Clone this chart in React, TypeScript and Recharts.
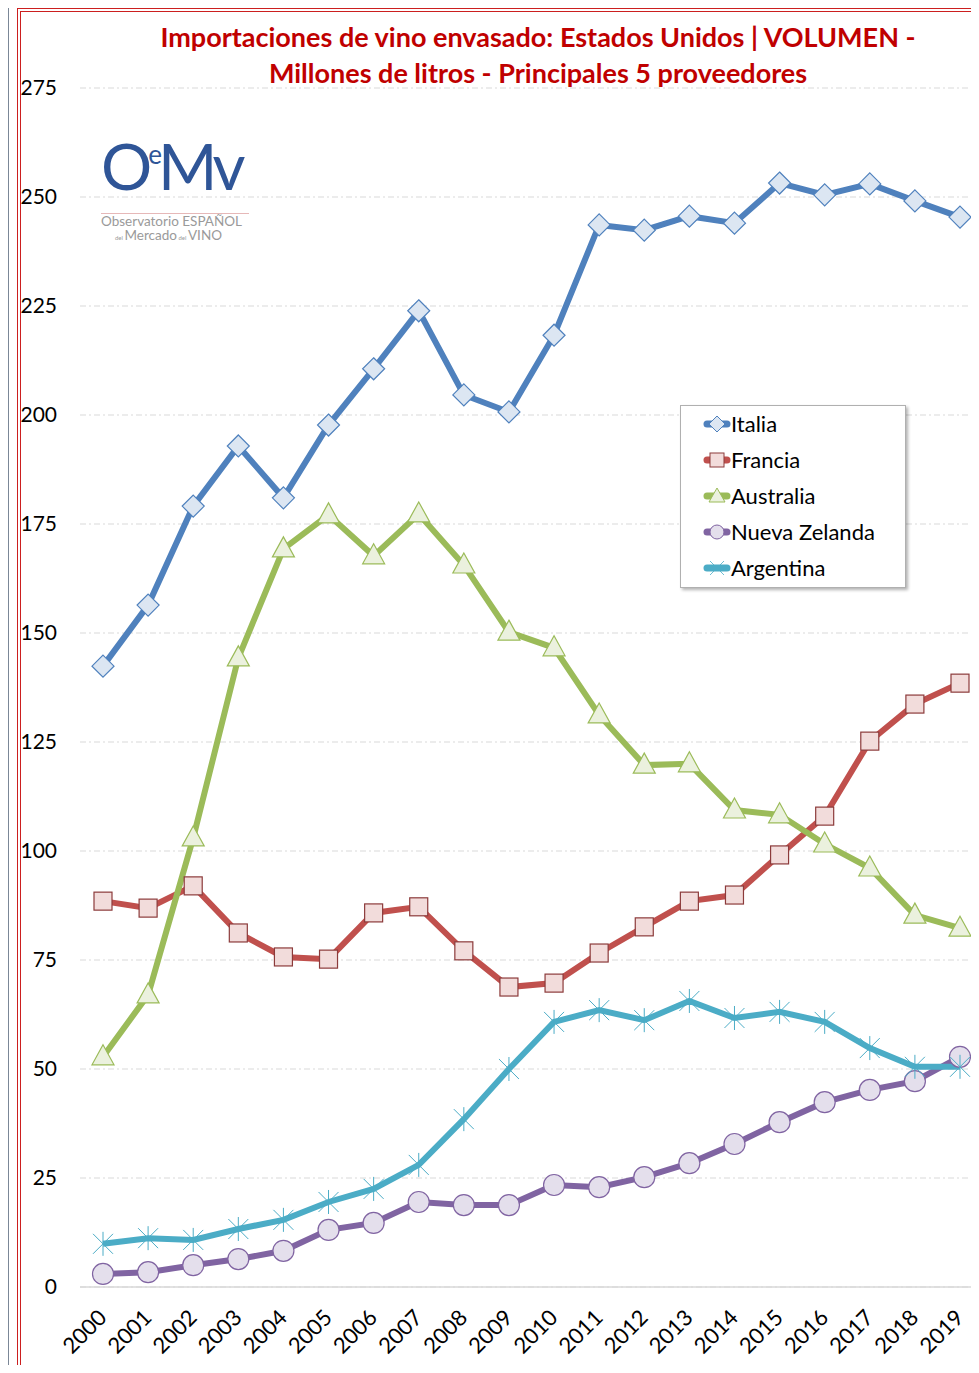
import { CartesianGrid, Line, LineChart, XAxis, YAxis } from 'recharts';

const years = ['2000', '2001', '2002', '2003', '2004', '2005', '2006', '2007', '2008', '2009', '2010', '2011', '2012', '2013', '2014', '2015', '2016', '2017', '2018', '2019'];
const italia = [142.4, 156.4, 179.1, 192.9, 181.0, 197.7, 210.6, 223.9, 204.6, 200.7, 218.3, 243.6, 242.4, 245.6, 244.0, 253.2, 250.5, 253.0, 249.1, 245.4];
const francia = [88.5, 86.9, 92.0, 81.2, 75.7, 75.2, 85.8, 87.2, 77.1, 68.8, 69.7, 76.6, 82.6, 88.5, 89.9, 99.1, 108.0, 125.2, 133.7, 138.5];
const australia = [52.8, 67.0, 103.0, 144.3, 169.3, 177.1, 167.7, 177.3, 165.6, 150.2, 146.6, 131.2, 119.7, 120.0, 109.4, 108.3, 101.6, 96.1, 85.3, 82.3];
const nuevaZelanda = [3.0, 3.4, 5.0, 6.4, 8.3, 13.1, 14.7, 19.5, 18.8, 18.8, 23.4, 22.9, 25.2, 28.4, 32.8, 37.8, 42.4, 45.2, 47.2, 52.8];
const argentina = [9.9, 11.2, 10.8, 13.3, 15.4, 19.5, 22.5, 28.0, 38.5, 50.0, 60.8, 63.5, 61.2, 65.6, 61.7, 63.1, 60.8, 54.8, 50.5, 50.5];
const yTicks = [0, 25, 50, 75, 100, 125, 150, 175, 200, 225, 250, 275];

const data = years.map((y, i) => ({
  year: y,
  italia: italia[i],
  francia: francia[i],
  australia: australia[i],
  nz: nuevaZelanda[i],
  argentina: argentina[i],
}));

const FONT = 'Lato, "Open Sans", sans-serif';

const diamond = (cx: number, cy: number, r = 11) => `M${cx},${cy - r} L${cx + r},${cy} L${cx},${cy + r} L${cx - r},${cy} Z`;
const triangle = (cx: number, cy: number) => `M${cx},${cy - 12} L${cx + 11},${cy + 8} L${cx - 11},${cy + 8} Z`;

const DiamondDot = (p: any) => <path key={`d${p.index}`} d={diamond(p.cx, p.cy)} fill="#dce6f2" stroke="#4f81bd" strokeWidth={1.2} />;
const SquareDot = (p: any) => <rect key={`s${p.index}`} x={p.cx - 9} y={p.cy - 9} width={18} height={18} fill="#f2dcdb" stroke="#8c3b3b" strokeWidth={1.2} />;
const TriangleDot = (p: any) => <path key={`t${p.index}`} d={triangle(p.cx, p.cy)} fill="#ebf1de" stroke="#9bbb59" strokeWidth={1.2} />;
const CircleDot = (p: any) => <circle key={`c${p.index}`} cx={p.cx} cy={p.cy} r={10.5} fill="#e4dfec" stroke="#8064a2" strokeWidth={1.2} />;
const StarDot = (p: any) => (
  <g key={`a${p.index}`} stroke="#4bacc6" strokeWidth={1}>
    <line x1={p.cx - 10} y1={p.cy - 10} x2={p.cx + 10} y2={p.cy + 10} />
    <line x1={p.cx - 10} y1={p.cy + 10} x2={p.cx + 10} y2={p.cy - 10} />
    <line x1={p.cx} y1={p.cy - 12} x2={p.cx} y2={p.cy + 12} />
  </g>
);

const YearTick = (p: any) => (
  <text x={p.x + 5} y={p.y + 24} transform={`rotate(-45, ${p.x + 5}, ${p.y + 24})`} textAnchor="end" fontSize={22} fontFamily={FONT} fill="#000">
    {p.payload.value}
  </text>
);

const legendItems = [
  { name: 'Italia', color: '#4f81bd', marker: (cx: number, cy: number) => <path d={diamond(cx, cy, 8)} fill="#dce6f2" stroke="#4f81bd" /> },
  { name: 'Francia', color: '#c0504d', marker: (cx: number, cy: number) => <rect x={cx - 7} y={cy - 7} width={14} height={14} fill="#f2dcdb" stroke="#8c3b3b" /> },
  { name: 'Australia', color: '#9bbb59', marker: (cx: number, cy: number) => <path d={`M${cx},${cy - 8} L${cx + 8},${cy + 6} L${cx - 8},${cy + 6} Z`} fill="#ebf1de" stroke="#9bbb59" /> },
  { name: 'Nueva Zelanda', color: '#8064a2', marker: (cx: number, cy: number) => <circle cx={cx} cy={cy} r={7} fill="#e4dfec" stroke="#8064a2" /> },
  {
    name: 'Argentina',
    color: '#4bacc6',
    marker: (cx: number, cy: number) => (
      <g stroke="#4bacc6" strokeWidth={0.8}>
        <line x1={cx - 7} y1={cy - 7} x2={cx + 7} y2={cy + 7} />
        <line x1={cx - 7} y1={cy + 7} x2={cx + 7} y2={cy - 7} />
      </g>
    ),
  },
];

export default function App() {
  return (
    <div style={{ position: 'relative', width: 979, height: 1373, margin: -8, overflow: 'hidden', background: '#fff', fontFamily: FONT }}>
      <div style={{ position: 'absolute', left: 0, top: 0, width: 7, height: 1373, background: '#dfe7f1', borderRight: '2px solid #7b8797' }} />
      <div style={{ position: 'absolute', left: 17, top: 8, width: 990, height: 1355, border: '4px double #cc1f1f' }} />

      <div style={{ position: 'absolute', left: 100, top: 19, width: 876, textAlign: 'center', color: '#c00000', fontWeight: 700, fontSize: 27, lineHeight: '36px' }}>
        Importaciones de vino envasado: Estados Unidos | VOLUMEN -
        <br />
        Millones de litros - Principales 5 proveedores
      </div>

      <div style={{ position: 'absolute', left: 101, top: 133, width: 152, color: '#2f5597' }}>
        <div style={{ fontSize: 64, lineHeight: '66px', fontWeight: 400, letterSpacing: -4, whiteSpace: 'nowrap' }}>
          O<span style={{ fontSize: 26, position: 'relative', top: -26 }}>e</span>Mv
        </div>
        <div style={{ borderTop: '1px solid #e6b8b8', width: 148 }} />
        <div style={{ fontSize: 13.5, color: '#9a9a9a', lineHeight: '14px', whiteSpace: 'nowrap' }}>Observatorio ESPAÑOL</div>
        <div style={{ fontSize: 13.5, color: '#9a9a9a', lineHeight: '14px', whiteSpace: 'nowrap', paddingLeft: 14 }}>
          <span style={{ fontSize: 6 }}>del </span>Mercado<span style={{ fontSize: 6 }}> del </span>VINO
        </div>
      </div>

      <div style={{ position: 'absolute', left: 0, top: 0 }}>
        <LineChart width={990} height={1373} data={data} margin={{ top: 88, right: 7, left: 0, bottom: 0 }}>
          <CartesianGrid vertical={false} stroke="#d9d9d9" strokeDasharray="6 3 2 3" />
          <XAxis dataKey="year" height={86} axisLine={{ stroke: '#d9d9d9', strokeWidth: 1.5 }} tickLine={false} interval={0} padding={{ left: 23, right: 23 }} tick={<YearTick />} />
          <YAxis width={80} domain={[0, 275]} ticks={yTicks} axisLine={false} tickLine={false} tickMargin={17} tick={{ fontSize: 21, fontFamily: FONT, fill: '#000' }} />
          <Line dataKey="italia" stroke="#4f81bd" strokeWidth={6} dot={DiamondDot} isAnimationActive={false} />
          <Line dataKey="francia" stroke="#c0504d" strokeWidth={6} dot={SquareDot} isAnimationActive={false} />
          <Line dataKey="australia" stroke="#9bbb59" strokeWidth={6} dot={TriangleDot} isAnimationActive={false} />
          <Line dataKey="nz" stroke="#8064a2" strokeWidth={6} dot={CircleDot} isAnimationActive={false} />
          <Line dataKey="argentina" stroke="#4bacc6" strokeWidth={6} dot={StarDot} isAnimationActive={false} />
        </LineChart>
      </div>

      <div style={{ position: 'absolute', left: 680, top: 405, width: 224, height: 181, border: '1px solid #b0b0b0', boxShadow: '2px 2px 3px rgba(0,0,0,0.3)', background: '#fff' }}>
        {legendItems.map((it, i) => (
          <div key={it.name} style={{ position: 'absolute', left: 22, top: 3 + i * 36, height: 30, display: 'flex', alignItems: 'center' }}>
            <svg width={28} height={20}>
              <line x1={4} y1={10} x2={24} y2={10} stroke={it.color} strokeWidth={7} strokeLinecap="round" />
              {it.marker(14, 10)}
            </svg>
            <span style={{ fontSize: 22, color: '#000', lineHeight: '30px' }}>{it.name}</span>
          </div>
        ))}
      </div>
    </div>
  );
}
